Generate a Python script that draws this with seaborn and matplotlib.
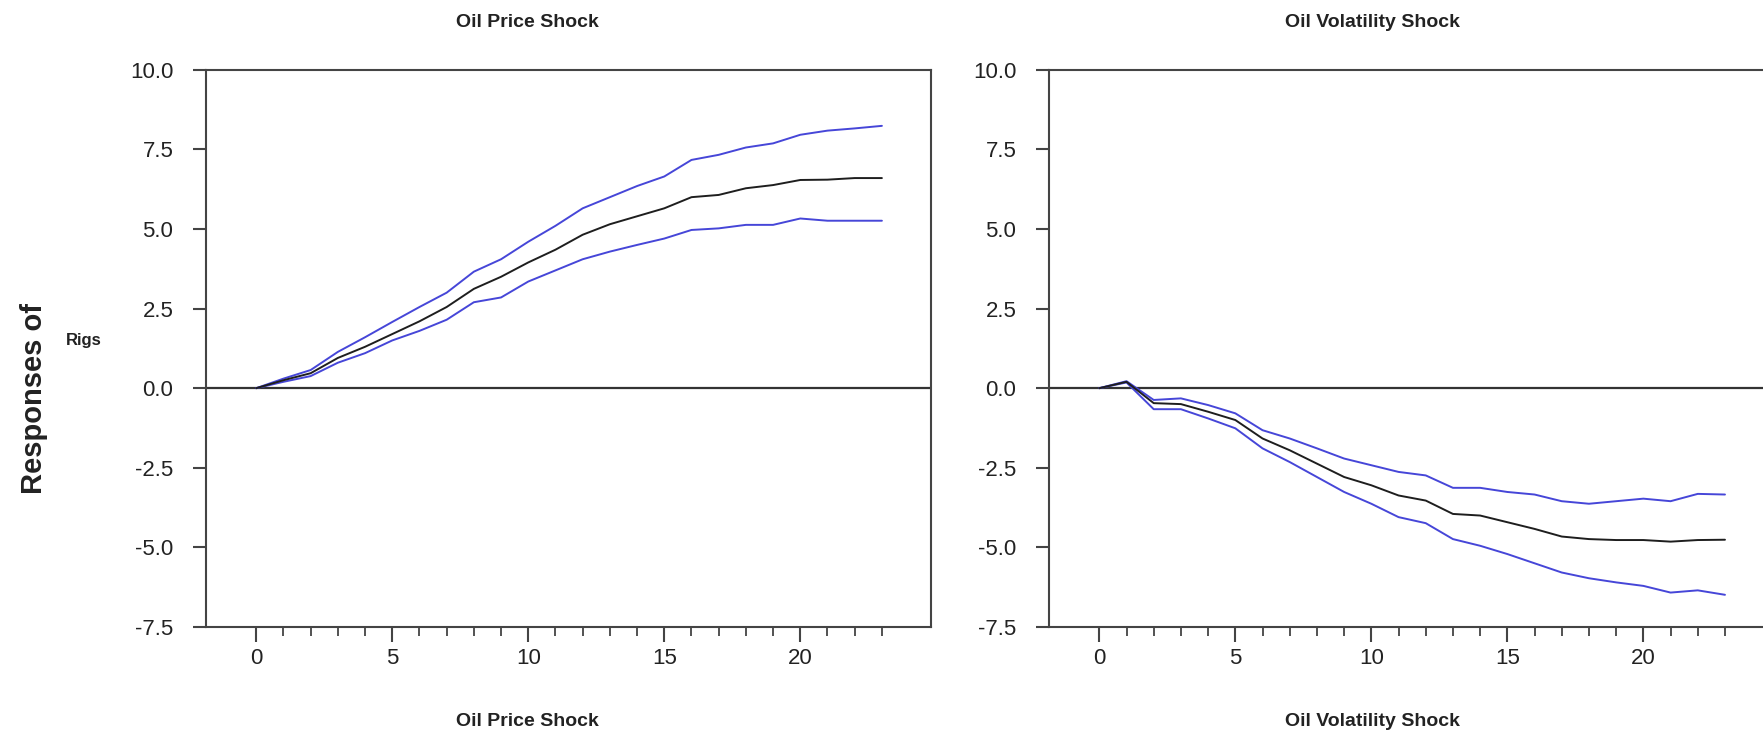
import numpy as np
import pandas as pd
import matplotlib.pyplot as plt
import matplotlib.ticker as mticker
import seaborn as sns

# Impulse response data
periods = list(range(24))

price_mean = [0, 0.25, 0.47, 0.95, 1.3, 1.7, 2.1, 2.55, 3.12, 3.5, 3.95, 4.35,
              4.82, 5.15, 5.4, 5.65, 6.0, 6.07, 6.28, 6.38, 6.54, 6.55, 6.6, 6.6]
price_upper = [0, 0.3, 0.57, 1.14, 1.6, 2.08, 2.55, 3.0, 3.66, 4.05, 4.6, 5.1,
               5.65, 6.0, 6.35, 6.65, 7.17, 7.33, 7.56, 7.69, 7.96, 8.09, 8.16, 8.24]
price_lower = [0, 0.2, 0.38, 0.8, 1.1, 1.5, 1.8, 2.15, 2.7, 2.85, 3.35, 3.7,
               4.05, 4.29, 4.5, 4.7, 4.97, 5.02, 5.13, 5.13, 5.33, 5.26, 5.26, 5.26]

vol_mean = [0, 0.2, -0.47, -0.5, -0.74, -1.0, -1.58, -1.95, -2.37, -2.79, -3.05, -3.37,
            -3.53, -3.95, -4.0, -4.21, -4.42, -4.66, -4.74, -4.77, -4.77, -4.82, -4.77, -4.76]
vol_upper = [0, 0.22, -0.37, -0.32, -0.53, -0.79, -1.32, -1.58, -1.89, -2.21, -2.42, -2.63,
             -2.74, -3.13, -3.13, -3.26, -3.34, -3.55, -3.63, -3.55, -3.47, -3.55, -3.32, -3.34]
vol_lower = [0, 0.18, -0.66, -0.66, -0.95, -1.26, -1.89, -2.32, -2.79, -3.26, -3.63, -4.05,
             -4.24, -4.74, -4.95, -5.21, -5.5, -5.79, -5.97, -6.1, -6.21, -6.42, -6.35, -6.49]

panel_titles = ['Oil Price Shock', 'Oil Volatility Shock']
y_ticks = [-7.5, -5.0, -2.5, 0.0, 2.5, 5.0, 7.5, 10.0]
x_major = [0, 5, 10, 15, 20]

BLUE = '#4646d8'
DARK = '#1e1e1e'
SPINE = '#444444'

sns.set_theme(style='white')
plt.rcParams['font.family'] = ['Liberation Sans Narrow', 'Liberation Sans', 'DejaVu Sans']

fig = plt.figure(figsize=(17.63, 7.35), dpi=100)
ax1 = fig.add_axes([0.1168, 0.147, 0.4112, 0.758])
ax2 = fig.add_axes([0.595, 0.147, 0.4112, 0.758])

panels = [
    (ax1, price_mean, price_upper, price_lower, panel_titles[0], 0.444),
    (ax2, vol_mean, vol_upper, vol_lower, panel_titles[1], 0.4455),
]

for ax, mean, upper, lower, title, tx in panels:
    ax.axhline(0, color='#333333', lw=1.6, zorder=1)
    sns.lineplot(x=periods, y=upper, ax=ax, color=BLUE, lw=1.4, zorder=3)
    sns.lineplot(x=periods, y=lower, ax=ax, color=BLUE, lw=1.4, zorder=3)
    sns.lineplot(x=periods, y=mean, ax=ax, color=DARK, lw=1.4, zorder=4)

    ax.set_xlim(-1.85, 24.8)
    ax.set_ylim(-7.5, 10.0)
    ax.set_yticks(y_ticks)
    ax.yaxis.set_major_formatter(mticker.FormatStrFormatter('%.1f'))
    ax.set_xticks(x_major)
    ax.xaxis.set_minor_locator(mticker.FixedLocator(periods))

    ax.tick_params(axis='y', direction='out', length=9.5, width=1.5,
                   color=SPINE, pad=14, labelsize=16, labelcolor='#222222', left=True)
    ax.tick_params(axis='x', which='major', direction='out', length=11, width=1.5,
                   color=SPINE, pad=4, labelsize=16, labelcolor='#222222', bottom=True)
    ax.tick_params(axis='x', which='minor', direction='out', length=6.5, width=1.3,
                   color=SPINE, bottom=True)
    for s in ax.spines.values():
        s.set_color(SPINE)
        s.set_linewidth(1.5)
    ax.grid(False)
    ax.set_xlabel('')
    ax.set_ylabel('')

    ax.text(tx, 1.085, title, transform=ax.transAxes, ha='center', va='center',
            fontsize=14, fontweight='bold', color='#222222')
    ax.text(tx, -0.169, title, transform=ax.transAxes, ha='center', va='center',
            fontsize=14, fontweight='bold', color='#222222')

fig.text(34 / 1763, 1 - 399 / 735, 'Responses of', rotation=90, ha='center', va='center',
         fontsize=21, fontweight='bold', family=['Liberation Sans', 'DejaVu Sans'], color='#222222')
fig.text(84 / 1763, 1 - 340 / 735, 'Rigs', ha='center', va='center',
         fontsize=12, fontweight='bold', family=['Liberation Sans', 'DejaVu Sans'], color='#222222')

fig.savefig('out.png', dpi=100)
plt.close(fig)
